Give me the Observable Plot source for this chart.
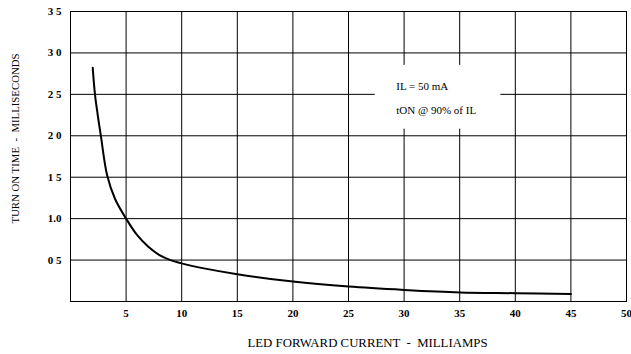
<!DOCTYPE html>
<html><head><meta charset="utf-8">
<script src="https://cdn.jsdelivr.net/npm/d3@7"></script>
<script src="https://cdn.jsdelivr.net/npm/@observablehq/plot@0.6"></script>
<style>body{margin:0;background:#fff}#chart svg{display:block}</style>
</head><body><div id="chart"></div>
<script>
const current = [2.0, 2.2, 2.45, 2.75, 3.3, 4.0, 5.0, 6.0, 7.0, 8.0, 9.0, 10, 12, 15, 20, 25, 30, 35, 40, 45];
const turnOnTime = [2.82, 2.5, 2.25, 1.98, 1.52, 1.24, 1.0, 0.8, 0.66, 0.56, 0.5, 0.46, 0.4, 0.33, 0.24, 0.18, 0.14, 0.11, 0.1, 0.09];
const xTicks = [5, 10, 15, 20, 25, 30, 35, 40, 45, 50];
const yTicks = [0.5, 1.0, 1.5, 2.0, 2.5, 3.0, 3.5];
const yTickLabels = ["0 5", "1.0", "1 5", "2 0", "2 5", "3 0", "3 5"];
const xTitle = ["LED FORWARD CURRENT  -  MILLIAMPS"];
const yTitle = ["TURN ON TIME  -  MILLISECONDS"];
const noteLines = ["IL = 50 mA", "tON @ 90% of IL"];
const noteX = [29.3, 29.3];
const noteY = [2.6, 2.31];

const curve = current.map((x, i) => ({x, y: turnOnTime[i]}));
const notes = noteLines.map((t, i) => ({t, x: noteX[i], y: noteY[i]}));
const yLabelMap = new Map(yTicks.map((v, i) => [v, yTickLabels[i]]));

const chart = Plot.plot({
  width: 631,
  height: 354,
  marginLeft: 70,
  marginRight: 5,
  marginTop: 11,
  marginBottom: 53,
  style: {fontFamily: "Liberation Serif", background: "#fff", color: "#000"},
  x: {domain: [0, 50]},
  y: {domain: [0, 3.5]},
  marks: [
    Plot.gridX(xTicks, {stroke: "#000", strokeOpacity: 1, strokeWidth: 1}),
    Plot.gridY(yTicks, {stroke: "#000", strokeOpacity: 1, strokeWidth: 1}),
    Plot.rect([{x1: 27.4, x2: 38.7, y1: 2.08, y2: 2.85}], {x1: "x1", x2: "x2", y1: "y1", y2: "y2", fill: "#fff"}),
    Plot.frame({stroke: "#000", strokeWidth: 1}),
    Plot.line(curve, {x: "x", y: "y", stroke: "#000", strokeWidth: 2, curve: "catmull-rom"}),
    Plot.text(notes, {x: "x", y: "y", text: "t", textAnchor: "start", fontSize: 11, fill: "#000"}),
    Plot.axisX(xTicks, {tickSize: 0, tickPadding: 8, fontSize: 11, fontWeight: "bold", label: null}),
    Plot.axisY(yTicks, {tickSize: 0, tickPadding: 9, fontSize: 11, fontWeight: "bold", tickFormat: d => yLabelMap.get(d), label: null}),
    Plot.text(xTitle, {text: d => d, frameAnchor: "bottom", textAnchor: "middle", dx: 19, dy: 45, fontSize: 12.8, fill: "#000"}),
    Plot.text(yTitle, {text: d => d, frameAnchor: "left", textAnchor: "middle", rotate: -90, dx: -55, dy: -18, fontSize: 10.8, fill: "#000"})
  ]
});
document.getElementById("chart").append(chart);
</script>
</body></html>
